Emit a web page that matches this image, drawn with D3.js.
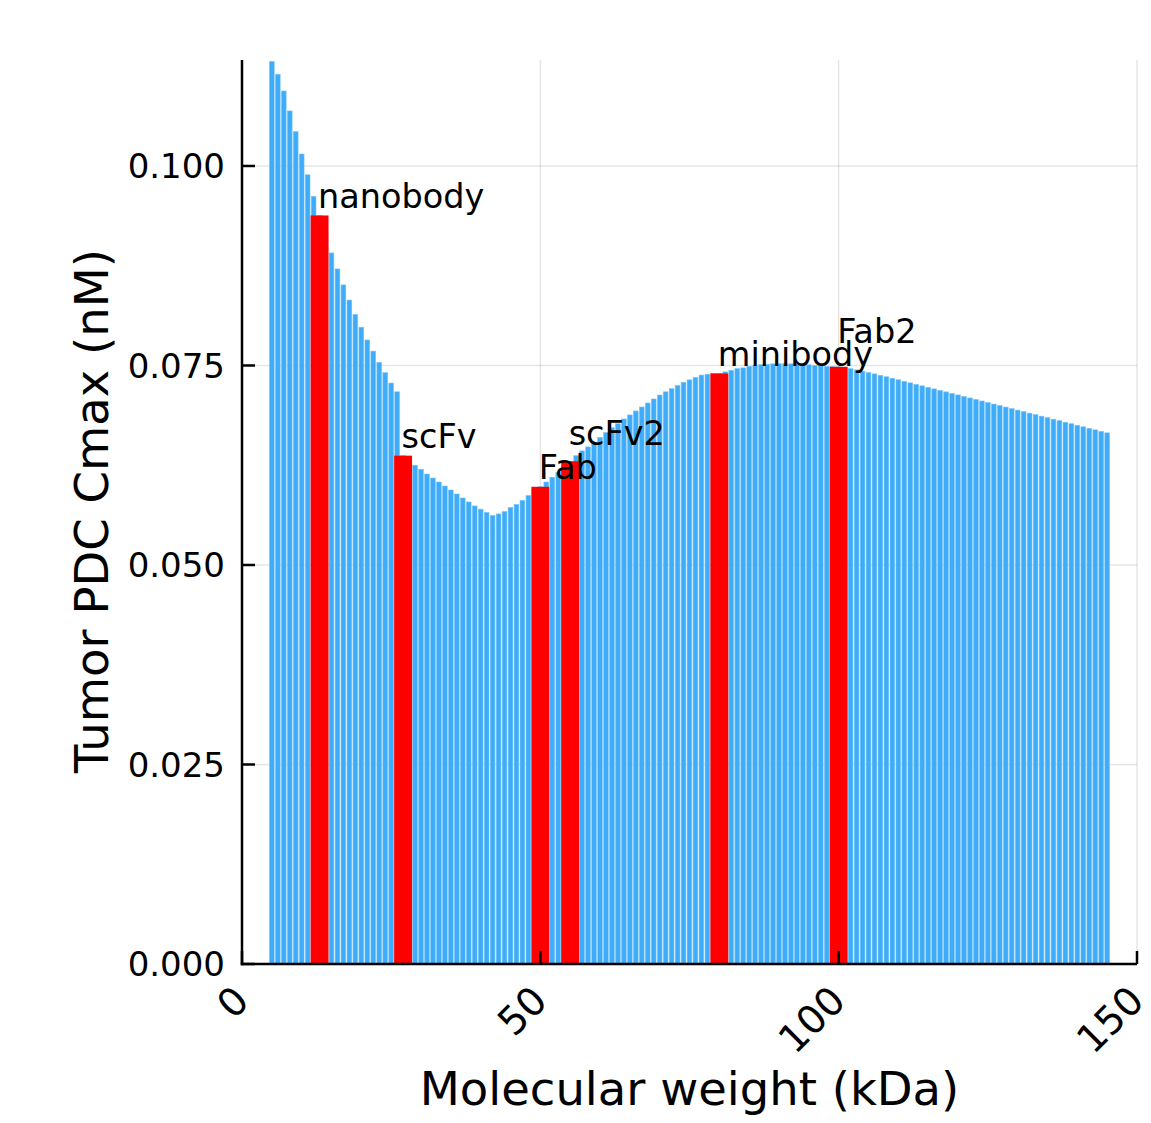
<!DOCTYPE html>
<html>
<head>
<meta charset="utf-8">
<script src="https://cdn.jsdelivr.net/npm/d3@7"></script>
<style>
  html, body { margin: 0; padding: 0; background: #fff; }
  svg text { font-family: "DejaVu Sans", sans-serif; fill: #000; }
</style>
</head>
<body>
<div id="chart"></div>
<script>
// molecular weights (kDa) of the swept constructs
const mwKDa = [
  5, 6, 7, 8, 9, 10, 11, 12, 13, 14, 15, 16, 17, 18, 19, 20, 21, 22, 23, 24,
  25, 26, 27, 28, 29, 30, 31, 32, 33, 34, 35, 36, 37, 38, 39, 40, 41, 42, 43, 44,
  45, 46, 47, 48, 49, 50, 51, 52, 53, 54, 55, 56, 57, 58, 59, 60, 61, 62, 63, 64,
  65, 66, 67, 68, 69, 70, 71, 72, 73, 74, 75, 76, 77, 78, 79, 80, 81, 82, 83, 84,
  85, 86, 87, 88, 89, 90, 91, 92, 93, 94, 95, 96, 97, 98, 99, 100, 101, 102, 103, 104,
  105, 106, 107, 108, 109, 110, 111, 112, 113, 114, 115, 116, 117, 118, 119, 120, 121, 122, 123, 124,
  125, 126, 127, 128, 129, 130, 131, 132, 133, 134, 135, 136, 137, 138, 139, 140, 141, 142, 143, 144,
  145
];
// tumor PDC Cmax (nM), one per weight above
const cmaxNM = [
  0.1131, 0.1115, 0.1094, 0.1069, 0.1043, 0.1015, 0.0989, 0.0962, 0.0938, 0.0915,
  0.0891, 0.0871, 0.0851, 0.0832, 0.0814, 0.0798, 0.0782, 0.0768, 0.0754, 0.0741,
  0.0728, 0.0717, 0.0637, 0.0631, 0.0625, 0.0620, 0.0614, 0.0609, 0.0604, 0.0599,
  0.0594, 0.0589, 0.0584, 0.0579, 0.0574, 0.0570, 0.0566, 0.0562, 0.0564, 0.0567,
  0.0572, 0.0576, 0.0581, 0.0587, 0.0592, 0.0598, 0.0604, 0.0610, 0.0616, 0.0623,
  0.0630, 0.0637, 0.0643, 0.0648, 0.0654, 0.0660, 0.0666, 0.0672, 0.0677, 0.0683,
  0.0688, 0.0693, 0.0698, 0.0703, 0.0708, 0.0713, 0.0717, 0.0721, 0.0725, 0.0729,
  0.0732, 0.0735, 0.0738, 0.0739, 0.0740, 0.0740, 0.0742, 0.0744, 0.0746, 0.0747,
  0.0749, 0.0750, 0.0751, 0.07515, 0.0752, 0.07522, 0.07522, 0.0752, 0.07517, 0.07513,
  0.07508, 0.07502, 0.07495, 0.07488, 0.07485, 0.07483, 0.07472, 0.0746, 0.07445, 0.07429,
  0.07412, 0.07395, 0.07377, 0.07359, 0.0734, 0.07321, 0.07302, 0.07283, 0.07264, 0.07245,
  0.07226, 0.07207, 0.07188, 0.07169, 0.0715, 0.07131, 0.07112, 0.07093, 0.07074, 0.07055,
  0.07036, 0.07017, 0.06998, 0.06979, 0.0696, 0.06941, 0.06922, 0.06903, 0.06884, 0.06865,
  0.06846, 0.06827, 0.06808, 0.06789, 0.0677, 0.06751, 0.06732, 0.06713, 0.06694, 0.06675,
  0.06656
];

// highlighted antibody formats
const formatNames = ["nanobody", "scFv", "Fab", "scFv2", "minibody", "Fab2"];
const formatMW    = [13, 27, 50, 55, 80, 100];
const formatCmax  = [0.0938, 0.0637, 0.0598, 0.0630, 0.0740, 0.07483];
const formatLabelY = [0.0938, 0.0637, 0.0598, 0.0640, 0.0740, 0.0768];

const xTicks = [0, 50, 100, 150];
const yTicks = [0, 0.025, 0.05, 0.075, 0.1];

(function () {
    const W = 1151, H = 1123;
    const plot = { left: 242, right: 1137, top: 60, bottom: 964 };
    const tickFont = 34, xTickFont = 39, annFont = 33.5, guideFont = 46.5;

    const svg = d3.select("#chart").append("svg")
        .attr("width", W).attr("height", H);

    const x = d3.scaleLinear().domain([0, 150]).range([plot.left, plot.right]);
    const y = d3.scaleLinear().domain([0, 0.11328]).range([plot.bottom, plot.top]);

    // grid
    const grid = svg.append("g").attr("stroke", "#000").attr("stroke-opacity", 0.1).attr("stroke-width", 1.5);
    yTicks.filter(t => t > 0).forEach(t => {
        grid.append("line").attr("x1", plot.left).attr("x2", plot.right)
            .attr("y1", y(t)).attr("y2", y(t));
    });
    xTicks.filter(t => t > 0).forEach(t => {
        grid.append("line").attr("x1", x(t)).attr("x2", x(t))
            .attr("y1", plot.top).attr("y2", plot.bottom);
    });

    // swept bars
    const bars = mwKDa.map((m, i) => ({ mw: m, v: cmaxNM[i] }));
    const bw = x(0.8) - x(0);
    svg.append("g").selectAll("rect").data(bars).enter().append("rect")
        .attr("x", d => x(d.mw) - bw / 2)
        .attr("width", bw)
        .attr("y", d => y(d.v))
        .attr("height", d => y(0) - y(d.v))
        .attr("fill", "#3eacf8")
        .attr("stroke", "#7cc6fa")
        .attr("stroke-width", 0.6);

    // highlighted formats
    const fmt = formatNames.map((n, i) => ({ name: n, mw: formatMW[i], v: formatCmax[i], ly: formatLabelY[i] }));
    const rw = x(3) - x(0);
    svg.append("g").selectAll("rect").data(fmt).enter().append("rect")
        .attr("x", d => x(d.mw) - rw / 2)
        .attr("width", rw)
        .attr("y", d => y(d.v))
        .attr("height", d => y(0) - y(d.v))
        .attr("fill", "#ff0000");

    svg.append("g").selectAll("text").data(fmt).enter().append("text")
        .attr("x", d => x(d.mw) - 1.5)
        .attr("y", d => y(d.ly) - annFont * 0.236)
        .attr("font-size", annFont)
        .text(d => d.name);

    // axes
    const ax = svg.append("g").attr("stroke", "#000").attr("stroke-width", 2.5);
    ax.append("line").attr("x1", plot.left).attr("x2", plot.left)
        .attr("y1", plot.top).attr("y2", plot.bottom + 1.25);
    ax.append("line").attr("x1", plot.left - 1.25).attr("x2", plot.right)
        .attr("y1", plot.bottom).attr("y2", plot.bottom);
    yTicks.forEach(t => {
        ax.append("line").attr("x1", plot.left).attr("x2", plot.left + 13)
            .attr("y1", y(t)).attr("y2", y(t));
    });
    xTicks.forEach(t => {
        ax.append("line").attr("x1", x(t)).attr("x2", x(t))
            .attr("y1", plot.bottom).attr("y2", plot.bottom - 13);
    });

    svg.append("g").selectAll("text").data(yTicks).enter().append("text")
        .attr("x", plot.left - 17)
        .attr("y", d => y(d))
        .attr("dy", "0.36em")
        .attr("text-anchor", "end")
        .attr("font-size", tickFont)
        .text(d => d3.format(".3f")(d));

    svg.append("g").selectAll("text").data(xTicks).enter().append("text")
        .attr("transform", d => `translate(${x(d) - 1},${plot.bottom + 29}) rotate(-45)`)
        .attr("dy", "0.36em")
        .attr("text-anchor", "end")
        .attr("font-size", xTickFont)
        .text(d => d);

    svg.append("text")
        .attr("x", (plot.left + plot.right) / 2)
        .attr("y", 1105)
        .attr("text-anchor", "middle")
        .attr("font-size", guideFont)
        .text("Molecular weight (kDa)");

    svg.append("text")
        .attr("transform", `translate(108,511) rotate(-90)`)
        .attr("text-anchor", "middle")
        .attr("font-size", guideFont)
        .text("Tumor PDC Cmax (nM)");
})();
</script>
</body>
</html>
